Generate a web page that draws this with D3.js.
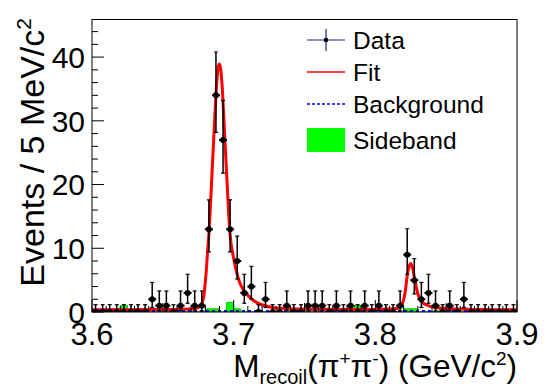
<!DOCTYPE html>
<html>
<head>
<meta charset="utf-8">
<script src="https://cdn.jsdelivr.net/npm/d3@7"></script>
<style>
  html, body { margin: 0; padding: 0; background: #fff; }
  svg text { font-family: "Liberation Sans", Arial, Helvetica, sans-serif; fill: #000; }
</style>
</head>
<body>
<div id="chart"></div>
<script>
// binned data: 60 bins of 5 MeV from 3.6 to 3.9 GeV
var binLow = 3.6;
var binWidth = 0.005;
var dataCounts = [
    0, 0, 0, 0, 0, 0, 0, 0, 2, 1,
    1, 0, 1, 3, 1, 1, 13, 34, 27, 13,
    8, 3, 4, 0, 2, 0, 0, 1, 0, 0,
    1, 1, 1, 0, 1, 0, 1, 0, 1, 0,
    1, 0, 0, 1, 9, 5, 2, 3, 1, 0,
    1, 0, 2, 0, 0, 0, 0, 0, 0, 0
];
var sidebandCounts = [
    0, 0, 0, 0, 1, 0, 0, 0, 0, 0,
    0, 0, 0, 0, 0, 0, 0.5, 0.5, 0, 1.5,
    0.5, 0, 0, 0, 0, 0, 0, 0, 0.5, 0,
    0, 0, 0, 0, 0, 0, 0, 1, 0, 0,
    0, 0, 0, 0, 0.5, 0.5, 0, 0, 0, 0.5,
    0, 0, 0, 0, 0, 0.5, 0, 0, 0, 0
];
// Poisson (68%) intervals used for the error bars, by count
var poissonN  = [0, 1, 2, 3, 4, 5, 8, 9, 13, 27, 34];
var poissonLo = [0, 0.173, 0.708, 1.367, 2.086, 2.840, 5.18, 5.92, 9.42, 21.8, 28.2];
var poissonHi = [1.147, 3.300, 4.638, 5.918, 7.163, 8.382, 11.90, 13.06, 17.6, 33.2, 40.8];

// fit curve
var fitMass = [3.600, 3.650, 3.665, 3.6727, 3.6762, 3.6786, 3.6795, 3.6805, 3.6815, 3.6828, 3.6840,
    3.6850, 3.6860, 3.6870, 3.6880, 3.6890, 3.6900, 3.6910, 3.6920, 3.6930, 3.6940, 3.6950,
    3.6960, 3.6970, 3.6980, 3.6990, 3.7000, 3.7010, 3.7025, 3.7040, 3.7060, 3.7087, 3.7110,
    3.7134, 3.7170, 3.7205, 3.7276, 3.740, 3.760, 3.790, 3.805, 3.812, 3.8162, 3.8186,
    3.8209, 3.8228, 3.8240, 3.8250, 3.8262, 3.8275, 3.8299, 3.8327, 3.8363, 3.8421,
    3.8539, 3.870, 3.900];
var fitValue = [0.35, 0.38, 0.42, 0.55, 0.9, 2.1, 3.6, 6.0, 9.2, 13.2, 18.5,
    23.0, 27.5, 32.0, 35.8, 38.3, 38.9, 37.8, 35.0, 30.8, 26.2, 21.8,
    17.5, 13.5, 11.0, 9.6, 8.4, 7.3, 5.9, 4.8, 3.8, 2.9, 2.4,
    1.9, 1.4, 1.1, 0.7, 0.5, 0.42, 0.4, 0.45, 0.5, 0.6, 1.1,
    2.9, 6.1, 7.3, 7.6, 7.0, 5.5, 2.9, 1.6, 1.1, 0.7,
    0.5, 0.4, 0.35];
var bkgMass = [3.600, 3.900];
var bkgValue = [0.18, 0.15];

var xTicks = [3.6, 3.7, 3.8, 3.9];
var yTicks = [0, 10, 20, 30, 40];
var legendLabels = ["Data", "Fit", "Background", "Sideband"];

var width = 545, height = 391;
var frame = { left: 92, right: 517, top: 19.5, bottom: 312 };

var svg = d3.select("#chart").append("svg")
    .attr("width", width).attr("height", height);
svg.append("rect").attr("width", width).attr("height", height).attr("fill", "#fff");

var xScale = d3.scaleLinear().domain([3.6, 3.9]).range([frame.left, frame.right]);
var yScale = d3.scaleLinear().domain([0, 45.9]).range([frame.bottom, frame.top]);

var plot = svg.append("g");
plot.append("clipPath").attr("id", "clip").append("rect")
    .attr("x", frame.left).attr("y", frame.top)
    .attr("width", frame.right - frame.left).attr("height", frame.bottom - frame.top);

var bins = dataCounts.map(function (n, i) {
    return { lo: binLow + i * binWidth, mid: binLow + (i + 0.5) * binWidth, n: n, sb: sidebandCounts[i] };
});

// sideband histogram (green, filled)
var sbPts = [];
bins.forEach(function (b) { sbPts.push([b.lo, b.sb]); });
sbPts.push([3.9, 0]);
plot.append("path")
    .datum(sbPts)
    .attr("clip-path", "url(#clip)")
    .attr("fill", "#00ff00")
    .attr("stroke", "#00c800")
    .attr("stroke-width", 1)
    .attr("d", d3.area()
        .curve(d3.curveStepAfter)
        .x(function (d) { return xScale(d[0]); })
        .y0(yScale(0))
        .y1(function (d) { return yScale(d[1]); }));

// axes (ROOT style ticks pointing inwards)
var axisG = svg.append("g");
var xMinor = d3.range(0, 31).map(function (i) { return 3.6 + i * 0.01; });
axisG.selectAll("line.xminor").data(xMinor).enter().append("line")
    .attr("x1", function (d) { return xScale(d); }).attr("x2", function (d) { return xScale(d); })
    .attr("y1", frame.bottom).attr("y2", function (d, i) { return frame.bottom - (i % 10 === 0 ? 12 : (i % 5 === 0 ? 9 : 6)); })
    .attr("stroke", "#000").attr("stroke-width", 1);
var yMinor = d3.range(0, 23).map(function (i) { return i * 2; });
axisG.selectAll("line.yminor").data(yMinor).enter().append("line")
    .attr("y1", function (d) { return yScale(d); }).attr("y2", function (d) { return yScale(d); })
    .attr("x1", frame.left).attr("x2", function (d) { return frame.left + (d % 10 === 0 ? 12 : 6); })
    .attr("stroke", "#000").attr("stroke-width", 1);

axisG.selectAll("text.xt").data(xTicks).enter().append("text")
    .attr("x", function (d) { return xScale(d); })
    .attr("y", 345)
    .attr("text-anchor", "middle")
    .style("font-size", "31px")
    .text(function (d) { return d.toFixed(1); });
axisG.selectAll("text.yt").data(yTicks).enter().append("text")
    .attr("x", 85)
    .attr("y", function (d) { return yScale(d); })
    .attr("dy", "0.36em")
    .attr("text-anchor", "end")
    .style("font-size", "30px")
    .text(function (d) { return d; });

// axis titles
var xTitle = svg.append("text")
    .attr("x", frame.right).attr("y", 377)
    .attr("text-anchor", "end")
    .style("font-size", "31.5px");
xTitle.append("tspan").text("M");
xTitle.append("tspan").attr("dy", 7).style("font-size", "20px").text("recoil");
xTitle.append("tspan").attr("dy", -7).text("(\u03c0");
xTitle.append("tspan").attr("dy", -12).style("font-size", "19px").text("+");
xTitle.append("tspan").attr("dy", 12).text("\u03c0");
xTitle.append("tspan").attr("dy", -12).style("font-size", "19px").text("-");
xTitle.append("tspan").attr("dy", 12).text(") (GeV/c");
xTitle.append("tspan").attr("dy", -12).style("font-size", "19px").text("2");
xTitle.append("tspan").attr("dy", 12).text(")");

var yTitle = svg.append("text")
    .attr("transform", "translate(44," + 18 + ") rotate(-90)")
    .attr("text-anchor", "end")
    .style("font-size", "34px");
yTitle.append("tspan").text("Events / 5 MeV/c");
yTitle.append("tspan").attr("dy", -13).style("font-size", "21px").text("2");

// fit and background curves
var line = d3.line()
    .curve(d3.curveMonotoneX)
    .x(function (d) { return xScale(d[0]); })
    .y(function (d) { return yScale(d[1]); });
plot.append("path")
    .datum(fitMass.map(function (m, i) { return [m, fitValue[i]]; }))
    .attr("clip-path", "url(#clip)")
    .attr("fill", "none").attr("stroke", "#ff0000").attr("stroke-width", 3)
    .attr("d", line);
plot.append("path")
    .datum(bkgMass.map(function (m, i) { return [m, bkgValue[i]]; }))
    .attr("clip-path", "url(#clip)")
    .attr("fill", "none").attr("stroke", "#0000ff").attr("stroke-width", 2)
    .attr("stroke-dasharray", "3,3")
    .attr("d", line);

// data points with Poisson error bars
function interval(n) {
    var k = poissonN.indexOf(n);
    return [poissonLo[k], poissonHi[k]];
}
var pts = plot.append("g").attr("clip-path", "url(#clip)");
bins.forEach(function (b) {
    var iv = interval(b.n);
    var x = xScale(b.mid);
    pts.append("line")
        .attr("x1", x).attr("x2", x)
        .attr("y1", yScale(iv[0])).attr("y2", yScale(iv[1]))
        .attr("stroke", "#000").attr("stroke-width", 1.5);
    pts.append("line")
        .attr("x1", x - 2).attr("x2", x + 2)
        .attr("y1", yScale(iv[1])).attr("y2", yScale(iv[1]))
        .attr("stroke", "#000").attr("stroke-width", 1.2);
    if (iv[0] > 0) {
        pts.append("line")
            .attr("x1", x - 2).attr("x2", x + 2)
            .attr("y1", yScale(iv[0])).attr("y2", yScale(iv[0]))
            .attr("stroke", "#000").attr("stroke-width", 1.2);
    }
    pts.append("line")
        .attr("x1", x - 4).attr("x2", x + 4)
        .attr("y1", yScale(b.n)).attr("y2", yScale(b.n))
        .attr("stroke", "#000").attr("stroke-width", 2);
    pts.append("circle")
        .attr("cx", x).attr("cy", yScale(b.n)).attr("r", 3)
        .attr("fill", "#000");
});

// frame
svg.append("rect")
    .attr("x", frame.left).attr("y", frame.top)
    .attr("width", frame.right - frame.left).attr("height", frame.bottom - frame.top)
    .attr("fill", "none").attr("stroke", "#000").attr("stroke-width", 1);

// legend
var leg = svg.append("g");
var legX0 = 307, legX1 = 345, legText = 353;
var legY = [40, 72, 104, 140];
leg.append("line").attr("x1", legX0).attr("x2", legX1).attr("y1", legY[0]).attr("y2", legY[0])
    .attr("stroke", "#1c1c8c").attr("stroke-width", 1.2);
leg.append("line").attr("x1", (legX0 + legX1) / 2).attr("x2", (legX0 + legX1) / 2)
    .attr("y1", legY[0] - 11).attr("y2", legY[0] + 11)
    .attr("stroke", "#1c1c8c").attr("stroke-width", 1.2);
leg.append("circle").attr("cx", (legX0 + legX1) / 2).attr("cy", legY[0]).attr("r", 2.3).attr("fill", "#000");
leg.append("line").attr("x1", legX0).attr("x2", legX1).attr("y1", legY[1]).attr("y2", legY[1])
    .attr("stroke", "#ff0000").attr("stroke-width", 1.5);
leg.append("line").attr("x1", legX0).attr("x2", legX1).attr("y1", legY[2]).attr("y2", legY[2])
    .attr("stroke", "#0000ff").attr("stroke-width", 1.5).attr("stroke-dasharray", "3,2");
leg.append("rect").attr("x", legX0).attr("y", legY[3] - 12).attr("width", legX1 - legX0).attr("height", 24)
    .attr("fill", "#00ff00");
leg.selectAll("text").data(legendLabels).enter().append("text")
    .attr("x", legText)
    .attr("y", function (d, i) { return legY[i]; })
    .attr("dy", "0.36em")
    .style("font-size", "24.5px")
    .text(function (d) { return d; });
</script>
</body>
</html>
